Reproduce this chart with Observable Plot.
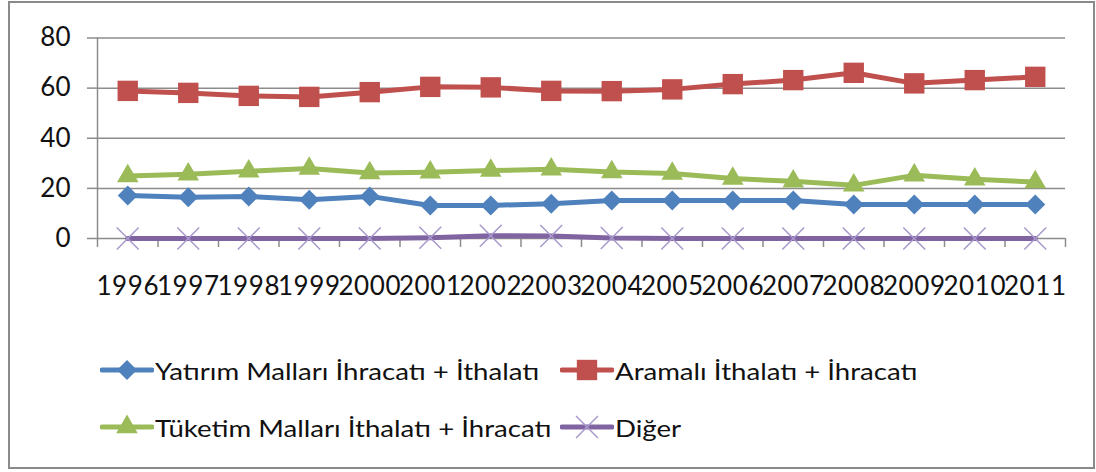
<!DOCTYPE html>
<html><head><meta charset="utf-8">
<script src="https://cdn.jsdelivr.net/npm/d3@7"></script>
<script src="https://cdn.jsdelivr.net/npm/@observablehq/plot@0.6"></script>
<style>
body{margin:0;background:#fff;width:1096px;height:472px;overflow:hidden;position:relative;font-family:Lato,"Open Sans",sans-serif;}
#frame{position:absolute;left:8px;top:1px;width:1083px;height:464px;border:2px solid #8a8a8a;}
#chart{position:absolute;left:0;top:0;}
.leg{position:absolute;display:flex;align-items:center;font-size:24px;color:#111;white-space:nowrap;}
.leg svg{display:block;margin-right:1px;}
.leg span{display:inline-block;transform:scaleX(1.15);transform-origin:left center;}
.yr text{letter-spacing:0.6px;}
</style></head><body>
<div id="frame"></div><div id="chart"></div><div id="legend"></div>
<script>
const years = [1996,1997,1998,1999,2000,2001,2002,2003,2004,2005,2006,2007,2008,2009,2010,2011];
const yatirim = [17.2,16.5,16.8,15.5,16.8,13.2,13.2,13.9,15.2,15.2,15.2,15.2,13.6,13.6,13.6,13.6];
const aramali = [58.9,58.1,56.9,56.5,58.4,60.5,60.3,58.9,58.8,59.5,61.6,63.2,66.1,61.9,63.2,64.5];
const tuketim = [24.9,25.6,26.8,27.9,26.1,26.4,27.1,27.6,26.5,25.9,23.9,22.8,21.2,25.2,23.6,22.5];
const diger = [0,0,0,0,0,0.3,1.1,1.0,0.2,0,0,0,0,0,0,0];
const seriesNames = ["Yatırım Malları İhracatı + İthalatı","Aramalı İthalatı + İhracatı","Tüketim Malları İthalatı + İhracatı","Diğer"];
const seriesColors = ["#4F81BD","#C0504D","#9BBB59","#8064A2"];
const seriesSymbols = ["diamond2","square","triangle","times"];
const seriesR = [9,11.5,8,10];
const yTicks = [0,20,40,60,80];

const allValues = [yatirim, aramali, tuketim, diger];
const boundaries = years.map(y => y - 0.5).concat([years[years.length-1] + 0.5]);

const marks = [
  Plot.ruleY(yTicks, {stroke:"#8c8c8c", strokeWidth:1.5}),
  Plot.ruleX([boundaries[0]], {stroke:"#8c8c8c", strokeWidth:1.5}),
  Plot.axisX({ticks: boundaries, tickSize: 9, tickFormat: () => "", label: null, stroke:"#8c8c8c", strokeWidth:1.5}),
  Plot.axisX({ticks: years, tickSize: 0, tickPadding: 38, tickFormat: d => String(d), label: null, fontSize: 26, fill:"#111", className: "yr"}),
  Plot.axisY({ticks: yTicks, tickSize: 10, tickPadding: 17, label: null, fontSize: 26, stroke:"#8c8c8c", strokeWidth:1.5, fill:"#111"})
];
allValues.forEach((vals, i) => {
  const data = years.map((y, j) => ({year: y, value: vals[j]}));
  marks.push(Plot.line(data, {x:"year", y:"value", stroke: seriesColors[i], strokeWidth: 5}));
  if (seriesSymbols[i] === "times") {
    marks.push(Plot.dot(data, {x:"year", y:"value", symbol:"times", r: seriesR[i], stroke:"#A898CC", strokeWidth:1.5}));
  } else {
    marks.push(Plot.dot(data, {x:"year", y:"value", symbol: seriesSymbols[i], r: seriesR[i], fill: seriesColors[i], stroke:"none"}));
  }
});

const chart = Plot.plot({
  width: 1096, height: 310,
  marginLeft: 97, marginRight: 31, marginTop: 37.5, marginBottom: 72,
  x: {domain: [boundaries[0], boundaries[boundaries.length-1]], axis: null, label: null},
  y: {domain: [0, 80], axis: null, label: null},
  style: {fontFamily: "Lato, 'Open Sans', sans-serif", background: "transparent"},
  marks
});
document.getElementById("chart").append(chart);

// legend
const legPos = [[100,370],[560,370],[100,427],[560,427]];
const legend = document.getElementById("legend");
seriesNames.forEach((name, i) => {
  const div = document.createElement("div");
  div.className = "leg";
  div.style.left = legPos[i][0] + "px";
  div.style.top = (legPos[i][1] - 16) + "px";
  div.style.height = "32px";
  const svg = d3.create("svg").attr("width", 54).attr("height", 32);
  svg.append("line").attr("x1", 2).attr("x2", 52).attr("y1", 16).attr("y2", 16)
    .attr("stroke", seriesColors[i]).attr("stroke-width", 5).attr("stroke-linecap","round");
  const symType = {diamond2: d3.symbolDiamond2, square: d3.symbolSquare, triangle: d3.symbolTriangle, times: d3.symbolTimes}[seriesSymbols[i]];
  const p = svg.append("path").attr("transform", "translate(27,16)")
    .attr("d", d3.symbol(symType, Math.PI * seriesR[i] * seriesR[i])());
  if (seriesSymbols[i] === "times") p.attr("fill","none").attr("stroke","#A898CC").attr("stroke-width",1.5);
  else p.attr("fill", seriesColors[i]);
  div.append(svg.node());
  const span = document.createElement("span");
  span.textContent = name;
  div.append(span);
  legend.append(div);
});
</script>
</body></html>
